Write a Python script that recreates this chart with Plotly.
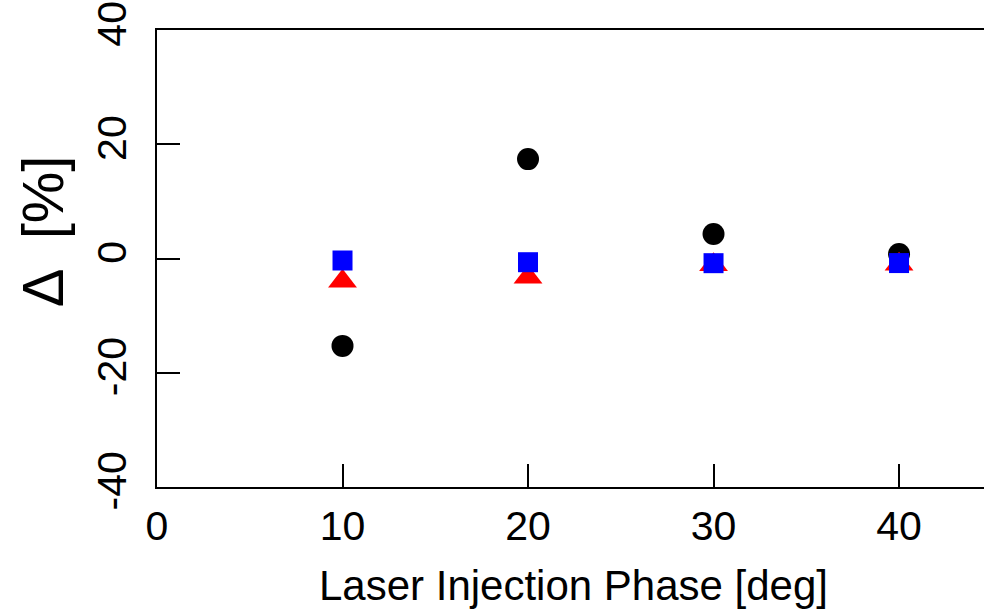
import plotly.graph_objects as go

phase = [10, 20, 30, 40]
delta_black = [-15.3, 17.4, 4.3, 0.8]
delta_red = [-4.0, -3.3, -1.1, -1.0]
delta_blue = [-0.35, -0.65, -0.82, -0.8]

x_ticks = [0, 10, 20, 30, 40]
y_ticks = [-40, -20, 0, 20, 40]

FONT = "Liberation Sans, Arial, sans-serif"

fig = go.Figure()
fig.add_trace(go.Scatter(x=phase, y=delta_black, mode="markers",
                         marker=dict(symbol="circle", size=22, color="black"), showlegend=False))
fig.add_trace(go.Scatter(x=phase, y=delta_red, mode="markers",
                         marker=dict(symbol="triangle-up", size=25, color="#ff0000"), showlegend=False))
fig.add_trace(go.Scatter(x=phase, y=delta_blue, mode="markers",
                         marker=dict(symbol="square", size=20, color="#0000ff"), showlegend=False))

fig.update_layout(
    width=984, height=611,
    margin=dict(l=157, r=0, t=30, b=124),
    paper_bgcolor="white", plot_bgcolor="white",
    font=dict(family=FONT, color="black"),
    xaxis=dict(range=[0, 44.58], tickvals=x_ticks, ticktext=[str(v) for v in x_ticks],
               showline=True, linecolor="black", linewidth=2, mirror=True,
               ticks="inside", ticklen=23, tickwidth=2, tickcolor="black",
               showgrid=False, zeroline=False,
               tickfont=dict(size=41, family=FONT), ticklabelstandoff=2),
    yaxis=dict(range=[-40, 40], tickvals=y_ticks, ticktext=[str(v) for v in y_ticks],
               showline=True, linecolor="black", linewidth=2, mirror=False,
               ticks="inside", ticklen=23, tickwidth=2, tickcolor="black",
               showgrid=False, zeroline=False, tickangle=-90,
               tickfont=dict(size=41, family=FONT), ticklabelstandoff=13),
    annotations=[
        dict(text="Δ  [%]", xref="paper", yref="paper", x=-0.139, y=0.56,
             xanchor="center", yanchor="middle", textangle=-90, showarrow=False,
             font=dict(size=58, family=FONT, color="black")),
        dict(text="Laser Injection Phase [deg]", xref="paper", yref="paper", x=0.504, y=-0.216,
             xanchor="center", yanchor="middle", showarrow=False,
             font=dict(size=42, family=FONT, color="black")),
    ],
)

fig.write_html("out.html")
